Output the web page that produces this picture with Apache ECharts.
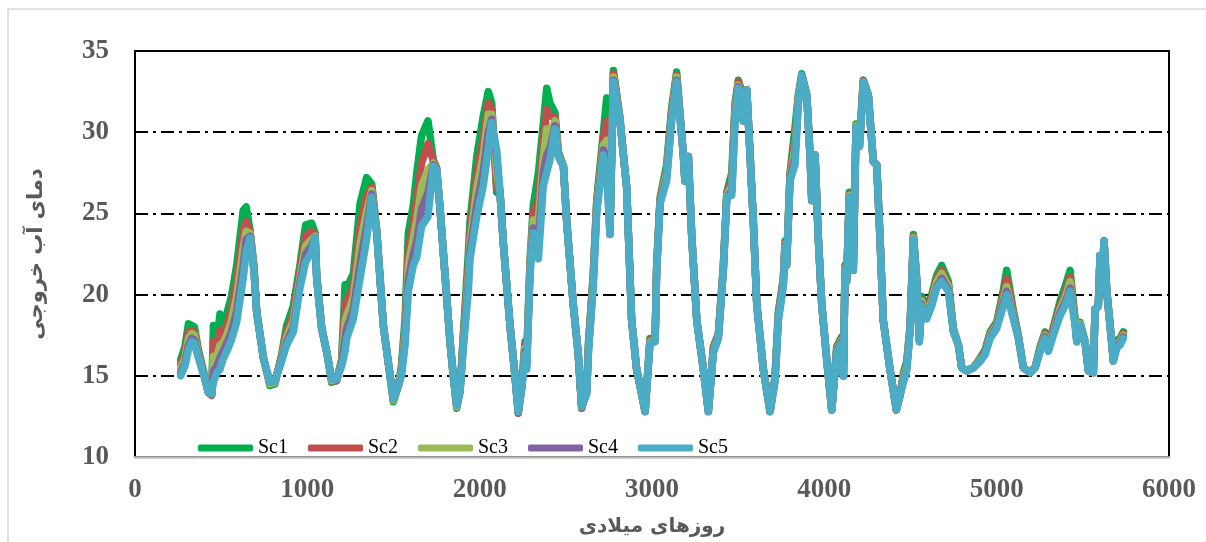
<!DOCTYPE html>
<html>
<head>
<meta charset="utf-8">
<script src="https://cdn.jsdelivr.net/npm/echarts@6/dist/echarts.min.js"></script>
<style>
  html, body { margin: 0; padding: 0; background: #fff; }
  #chart { width: 1206px; height: 542px; }
</style>
</head>
<body>
<div id="chart"></div>
<script>
// Day number (x) shared by all scenarios
const days = [
  265, 290, 310, 329, 345, 368, 400, 425, 445, 455,
  475, 493, 510, 532, 560, 590, 628, 645, 667, 690,
  706, 745, 783, 812, 851, 880, 919, 957, 990, 1025,
  1045, 1054, 1083, 1112, 1141, 1170, 1199, 1219, 1228, 1267,
  1306, 1344, 1374, 1403, 1441, 1480, 1499, 1528, 1546, 1567,
  1586, 1615, 1635, 1663, 1700, 1731, 1750, 1770, 1799, 1828,
  1847, 1867, 1886, 1905, 1934, 1944, 1983, 2021, 2050, 2070,
  2099, 2118, 2137, 2176, 2205, 2224, 2244, 2263, 2273, 2292,
  2311, 2341, 2369, 2389, 2408, 2437, 2457, 2486, 2505, 2543,
  2572, 2592, 2621, 2631, 2659, 2679, 2718, 2737, 2756, 2776,
  2814, 2834, 2853, 2882, 2911, 2960, 2988, 3018, 3027, 3047,
  3085, 3114, 3143, 3182, 3191, 3211, 3231, 3260, 3298, 3327,
  3356, 3385, 3414, 3434, 3463, 3482, 3501, 3521, 3530, 3550,
  3569, 3588, 3608, 3646, 3685, 3714, 3733, 3762, 3772, 3781,
  3801, 3830, 3849, 3869, 3898, 3917, 3927, 3946, 3965, 3985,
  4014, 4043, 4072, 4101, 4111, 4120, 4130, 4145, 4168, 4184,
  4205, 4226, 4255, 4284, 4304, 4323, 4342, 4381, 4418, 4439,
  4459, 4478, 4497, 4517, 4536, 4551, 4565, 4594, 4623, 4652,
  4681, 4720, 4749, 4778, 4797, 4826, 4865, 4904, 4933, 4962,
  5000, 5039, 5058, 5097, 5126, 5155, 5194, 5223, 5252, 5281,
  5300, 5329, 5368, 5397, 5426, 5455, 5465, 5484, 5513, 5532,
  5561, 5571, 5590, 5600, 5610, 5623, 5639, 5658, 5677, 5697,
  5716, 5735
];

// Outlet water temperature per scenario
const sc1 = [
  16.0, 16.8, 18.2, 18.1, 18.0, 16.6, 15.2, 14.0, 13.8, 18.1,
  17.1, 18.8, 18.3, 18.8, 19.9, 21.8, 25.2, 25.4, 24.0, 21.8,
  19.0, 16.1, 14.4, 14.5, 16.3, 18.1, 19.3, 21.8, 24.3, 24.4,
  23.8, 21.3, 18.0, 16.5, 14.6, 14.7, 16.0, 20.6, 20.4, 21.3,
  25.6, 27.2, 26.8, 23.9, 18.1, 15.0, 13.4, 14.4, 15.6, 18.5,
  23.8, 25.5, 27.5, 29.8, 30.7, 28.3, 27.8, 25.3, 21.2, 17.1,
  15.0, 13.0, 14.2, 17.5, 22.5, 24.5, 28.5, 31.0, 32.5, 31.8,
  26.3, 26.3, 23.2, 18.1, 15.0, 12.7, 14.4, 17.1, 16.3, 22.0,
  25.5, 27.5, 30.5, 32.7, 31.8, 31.2, 28.8, 27.9, 24.5, 19.4,
  16.3, 13.0, 14.2, 17.0, 21.3, 25.8, 30.0, 32.1, 23.9, 33.8,
  30.9, 28.6, 26.6, 18.4, 15.4, 12.8, 17.3, 17.3, 21.8, 26.0,
  28.0, 31.5, 33.7, 28.6, 27.0, 28.5, 23.5, 18.4, 15.4, 12.8,
  16.8, 17.6, 21.8, 26.3, 27.5, 31.8, 33.2, 32.5, 30.7, 32.6,
  28.6, 24.5, 19.4, 15.4, 12.8, 15.0, 18.9, 21.0, 23.3, 21.9,
  27.5, 30.3, 32.3, 33.6, 32.3, 28.6, 25.8, 28.6, 23.5, 19.4,
  16.0, 12.9, 16.8, 17.4, 15.0, 21.8, 21.1, 26.3, 21.5, 30.5,
  29.5, 33.2, 32.3, 28.2, 28.0, 23.5, 18.4, 15.4, 12.9, 13.8,
  15.2, 15.9, 18.0, 23.7, 21.0, 17.3, 19.9, 19.2, 20.0, 21.2,
  21.8, 20.8, 17.9, 16.9, 15.5, 15.3, 15.5, 16.1, 16.6, 17.7,
  18.3, 20.3, 21.5, 19.0, 17.5, 15.5, 15.2, 15.5, 16.8, 17.7,
  16.9, 18.0, 19.6, 20.5, 21.5, 18.5, 17.3, 18.3, 17.1, 15.3,
  15.2, 19.1, 19.3, 22.4, 20.2, 23.3, 20.2, 18.1, 16.1, 17.2,
  17.3, 17.7
];

const sc2 = [
  15.7, 16.4, 17.7, 17.8, 17.7, 16.4, 15.1, 14.0, 13.8, 17.1,
  16.5, 17.8, 17.6, 18.1, 19.1, 20.8, 24.0, 24.5, 23.9, 21.7,
  19.0, 16.1, 14.5, 14.6, 16.2, 17.7, 18.8, 21.4, 23.6, 23.9,
  23.7, 21.2, 18.0, 16.5, 14.7, 14.7, 15.9, 19.4, 19.5, 20.5,
  24.2, 26.1, 26.6, 23.9, 18.1, 15.0, 13.5, 14.4, 15.4, 18.0,
  22.7, 24.4, 25.9, 28.1, 29.3, 28.2, 27.8, 25.3, 21.2, 17.1,
  15.0, 13.1, 14.1, 17.3, 21.8, 23.8, 27.4, 29.7, 31.8, 31.4,
  26.6, 26.3, 23.2, 18.1, 15.0, 12.7, 14.3, 16.9, 16.0, 21.8,
  25.0, 25.9, 29.4, 31.4, 31.0, 30.9, 28.7, 27.9, 24.5, 19.4,
  16.3, 13.0, 14.1, 16.8, 21.1, 25.6, 29.6, 30.7, 23.8, 33.6,
  30.8, 28.6, 26.6, 18.4, 15.4, 12.8, 17.2, 17.2, 21.7, 25.9,
  27.7, 31.3, 33.5, 28.6, 27.0, 28.5, 23.5, 18.4, 15.4, 12.8,
  16.7, 17.5, 21.7, 26.2, 27.1, 31.5, 33.1, 32.5, 30.7, 32.6,
  28.6, 24.5, 19.4, 15.4, 12.8, 14.9, 18.8, 20.9, 23.2, 21.9,
  27.4, 29.6, 32.1, 33.5, 32.3, 28.6, 25.8, 28.6, 23.5, 19.4,
  16.0, 12.9, 16.7, 17.3, 15.0, 21.7, 21.0, 26.2, 21.5, 30.4,
  29.4, 33.2, 32.3, 28.2, 28.0, 23.5, 18.4, 15.4, 12.9, 13.8,
  15.0, 15.7, 17.9, 23.6, 20.9, 17.2, 19.7, 19.0, 19.8, 21.0,
  21.5, 20.6, 17.8, 16.9, 15.5, 15.3, 15.5, 16.0, 16.5, 17.6,
  18.2, 20.0, 21.0, 18.9, 17.4, 15.5, 15.2, 15.5, 16.7, 17.6,
  16.8, 17.9, 19.3, 20.1, 21.1, 18.4, 17.2, 18.2, 17.1, 15.3,
  15.2, 19.1, 19.3, 22.4, 20.2, 23.3, 20.2, 18.1, 16.0, 17.0,
  17.2, 17.6
];

const sc3 = [
  15.5, 16.1, 17.3, 17.6, 17.5, 16.3, 15.1, 14.0, 13.9, 16.2,
  16.1, 16.9, 17.0, 17.5, 18.4, 19.9, 22.9, 23.9, 23.8, 21.6,
  18.9, 16.1, 14.5, 14.6, 16.1, 17.4, 18.4, 21.0, 23.0, 23.4,
  23.6, 21.1, 17.9, 16.5, 14.7, 14.8, 15.8, 18.3, 18.7, 19.8,
  23.1, 25.1, 26.4, 23.8, 18.1, 15.0, 13.5, 14.4, 15.3, 17.6,
  21.8, 23.5, 24.6, 26.7, 27.7, 28.1, 27.7, 25.3, 21.2, 17.1,
  15.0, 13.1, 14.1, 17.1, 21.2, 23.2, 26.5, 28.6, 31.1, 31.1,
  27.5, 26.3, 23.2, 18.1, 15.0, 12.8, 14.3, 16.7, 15.8, 21.6,
  24.6, 24.6, 28.4, 30.2, 30.0, 30.7, 28.6, 27.9, 24.5, 19.4,
  16.4, 13.1, 14.0, 16.7, 20.9, 25.4, 29.2, 29.5, 23.8, 33.4,
  30.8, 28.6, 26.6, 18.4, 15.4, 12.8, 17.1, 17.2, 21.6, 25.8,
  27.5, 31.1, 33.4, 28.6, 27.0, 28.5, 23.5, 18.4, 15.4, 12.8,
  16.6, 17.4, 21.6, 26.1, 26.7, 31.2, 32.9, 32.4, 30.7, 32.6,
  28.6, 24.5, 19.4, 15.4, 12.8, 14.8, 18.6, 20.7, 23.1, 21.8,
  27.2, 29.0, 32.0, 33.5, 32.3, 28.6, 25.8, 28.6, 23.5, 19.4,
  16.0, 12.9, 16.6, 17.2, 15.0, 21.6, 20.9, 26.1, 21.5, 30.4,
  29.3, 33.1, 32.3, 28.2, 28.0, 23.5, 18.4, 15.4, 12.9, 13.8,
  14.9, 15.6, 17.8, 23.5, 20.9, 17.2, 19.6, 18.8, 19.6, 20.8,
  21.3, 20.5, 17.8, 16.9, 15.5, 15.3, 15.5, 16.0, 16.4, 17.5,
  18.1, 19.7, 20.5, 18.7, 17.4, 15.5, 15.2, 15.5, 16.6, 17.5,
  16.7, 17.7, 19.1, 19.8, 20.8, 18.3, 17.2, 18.2, 17.1, 15.3,
  15.2, 19.1, 19.3, 22.4, 20.2, 23.3, 20.2, 18.1, 16.0, 16.9,
  17.1, 17.5
];

const sc4 = [
  15.2, 15.8, 16.9, 17.3, 17.2, 16.2, 15.0, 14.0, 13.9, 15.3,
  15.6, 16.1, 16.5, 17.0, 17.7, 19.0, 21.8, 23.4, 23.6, 21.5,
  18.9, 16.1, 14.6, 14.7, 16.0, 17.1, 18.0, 20.7, 22.5, 23.0,
  23.5, 21.0, 17.9, 16.5, 14.8, 14.8, 15.7, 17.3, 17.9, 19.1,
  21.9, 24.2, 26.2, 23.8, 18.1, 15.0, 13.6, 14.4, 15.1, 17.2,
  20.9, 22.5, 23.3, 25.3, 26.3, 28.0, 27.7, 25.3, 21.2, 17.1,
  15.0, 13.2, 14.0, 16.9, 20.7, 22.7, 25.5, 27.6, 30.0, 30.8,
  28.4, 26.3, 23.2, 18.1, 15.0, 12.8, 14.2, 16.5, 15.6, 21.4,
  24.1, 23.3, 27.5, 28.6, 29.0, 30.4, 28.5, 27.9, 24.5, 19.4,
  16.4, 13.1, 13.9, 16.5, 20.7, 25.2, 28.9, 28.3, 23.7, 33.2,
  30.7, 28.6, 26.6, 18.4, 15.4, 12.8, 17.0, 17.1, 21.5, 25.7,
  27.2, 30.9, 33.2, 28.6, 27.0, 28.5, 23.5, 18.4, 15.4, 12.8,
  16.5, 17.3, 21.5, 26.0, 26.4, 30.9, 32.8, 32.4, 30.7, 32.6,
  28.6, 24.5, 19.4, 15.4, 12.8, 14.7, 18.5, 20.6, 23.0, 21.8,
  27.1, 28.5, 31.8, 33.5, 32.3, 28.6, 25.8, 28.6, 23.5, 19.4,
  16.0, 12.9, 16.5, 17.1, 15.0, 21.5, 20.8, 26.0, 21.5, 30.3,
  29.2, 33.1, 32.3, 28.2, 28.0, 23.5, 18.4, 15.4, 12.9, 13.8,
  14.7, 15.4, 17.7, 23.4, 20.8, 17.1, 19.4, 18.6, 19.4, 20.5,
  21.0, 20.3, 17.7, 16.9, 15.5, 15.3, 15.5, 15.9, 16.4, 17.4,
  18.0, 19.5, 20.2, 18.6, 17.3, 15.5, 15.2, 15.5, 16.5, 17.4,
  16.6, 17.6, 18.9, 19.5, 20.4, 18.2, 17.1, 18.1, 17.1, 15.3,
  15.2, 19.1, 19.3, 22.4, 20.2, 23.3, 20.2, 18.1, 15.9, 16.8,
  17.0, 17.4
];

const sc5 = [
  15.0, 15.6, 16.6, 17.1, 17.0, 16.1, 15.0, 14.0, 13.9, 14.6,
  15.2, 15.4, 16.0, 16.5, 17.2, 18.3, 21.0, 22.6, 23.5, 21.5,
  18.9, 16.1, 14.6, 14.7, 15.9, 16.9, 17.7, 20.4, 22.0, 22.6,
  23.5, 21.0, 17.9, 16.5, 14.8, 14.8, 15.6, 16.5, 17.3, 18.5,
  21.0, 23.4, 26.0, 23.8, 18.1, 15.0, 13.6, 14.4, 15.0, 16.9,
  20.2, 21.8, 22.3, 24.2, 24.8, 27.9, 27.7, 25.3, 21.2, 17.1,
  15.0, 13.2, 14.0, 16.7, 20.2, 22.2, 24.8, 26.7, 29.0, 30.6,
  28.9, 26.3, 23.2, 18.1, 15.0, 12.8, 14.2, 16.3, 15.4, 21.2,
  23.8, 22.2, 26.7, 27.5, 28.3, 30.2, 28.5, 27.9, 24.5, 19.4,
  16.4, 13.1, 13.9, 16.4, 20.5, 25.0, 28.6, 27.4, 23.7, 33.1,
  30.7, 28.6, 26.6, 18.4, 15.4, 12.8, 17.0, 17.1, 21.5, 25.6,
  27.0, 30.7, 33.1, 28.6, 27.0, 28.5, 23.5, 18.4, 15.4, 12.8,
  16.4, 17.3, 21.5, 26.0, 26.1, 30.7, 32.7, 32.4, 30.7, 32.6,
  28.6, 24.5, 19.4, 15.4, 12.8, 14.7, 18.4, 20.5, 22.9, 21.8,
  27.0, 28.0, 31.7, 33.5, 32.3, 28.6, 25.8, 28.6, 23.5, 19.4,
  16.0, 12.9, 16.4, 17.0, 15.0, 21.5, 20.8, 26.0, 21.5, 30.3,
  29.1, 33.1, 32.3, 28.2, 28.0, 23.5, 18.4, 15.4, 12.9, 13.8,
  14.6, 15.3, 17.7, 23.4, 20.8, 17.1, 19.3, 18.5, 19.3, 20.4,
  20.8, 20.2, 17.7, 16.9, 15.5, 15.3, 15.5, 15.9, 16.3, 17.3,
  17.9, 19.3, 20.0, 18.5, 17.3, 15.5, 15.2, 15.5, 16.5, 17.3,
  16.5, 17.5, 18.7, 19.3, 20.2, 18.1, 17.1, 18.1, 17.1, 15.3,
  15.2, 19.1, 19.3, 22.4, 20.2, 23.3, 20.2, 18.1, 15.9, 16.7,
  16.9, 17.3
];

const seriesNames = ['Sc1', 'Sc2', 'Sc3', 'Sc4', 'Sc5'];
const seriesColors = ['#00B050', '#C0504D', '#9BBB59', '#8064A2', '#4BACC6'];
const seriesValues = [sc1, sc2, sc3, sc4, sc5];

const xTitle = 'روزهای میلادی';
const yTitle = 'دمای آب خروجی';

const chart = echarts.init(document.getElementById('chart'), null, { renderer: 'canvas' });

const axisLabelStyle = {
  color: '#595959',
  fontFamily: 'Liberation Serif',
  fontWeight: 'bold',
  fontSize: 27,
  formatter: v => String(v)
};

chart.setOption({
  animation: false,
  backgroundColor: '#ffffff',
  graphic: [{
    type: 'rect',
    shape: { x: 8, y: 9, width: 1210, height: 560 },
    style: { fill: 'none', stroke: '#d9d9d9', lineWidth: 1.5 },
    silent: true,
    z: -10
  }],
  grid: {
    left: 135, right: 37, top: 51, bottom: 83,
    show: true,
    borderColor: '#000',
    borderWidth: 2,
    backgroundColor: 'transparent'
  },
  legend: {
    data: seriesNames,
    left: 193,
    top: 433,
    icon: 'roundRect',
    itemWidth: 55,
    itemHeight: 7,
    itemGap: 20,
    textStyle: { fontFamily: 'Liberation Serif', fontSize: 20, color: '#000' }
  },
  xAxis: {
    type: 'value',
    min: 0, max: 6000, interval: 1000,
    name: xTitle,
    nameLocation: 'middle',
    nameGap: 60,
    nameTextStyle: { color: '#595959', fontFamily: 'DejaVu Sans', fontWeight: 'bold', fontSize: 20 },
    axisLine: { show: true, lineStyle: { color: '#bfbfbf', width: 2.5 } },
    axisTick: { show: false },
    splitLine: { show: false },
    axisLabel: Object.assign({ margin: 20 }, axisLabelStyle)
  },
  yAxis: {
    type: 'value',
    min: 10, max: 35, interval: 5,
    name: yTitle,
    nameLocation: 'middle',
    nameRotate: 90,
    nameGap: 88,
    nameTextStyle: { color: '#595959', fontFamily: 'DejaVu Sans', fontWeight: 'bold', fontSize: 21 },
    axisLine: { show: true, lineStyle: { color: '#000', width: 2 } },
    axisTick: { show: false },
    splitLine: { show: true, lineStyle: { color: '#000', width: 2, type: [13, 5, 3, 5] } },
    axisLabel: Object.assign({ margin: 26 }, axisLabelStyle)
  },
  series: seriesNames.map((name, k) => ({
    name: name,
    type: 'line',
    data: days.map((d, i) => [d, seriesValues[k][i]]),
    showSymbol: false,
    symbol: 'none',
    color: seriesColors[k],
    lineStyle: { color: seriesColors[k], width: 7.5, cap: 'round', join: 'round' },
    z: 2 + k
  }))
});
</script>
</body>
</html>
